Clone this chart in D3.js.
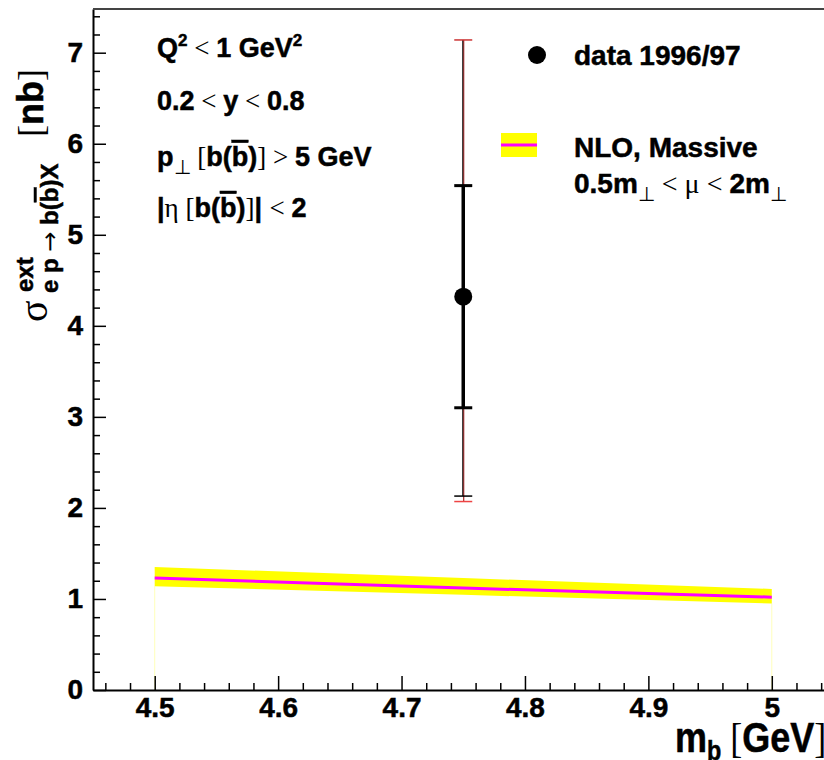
<!DOCTYPE html>
<html>
<head>
<meta charset="utf-8">
<script src="https://cdn.jsdelivr.net/npm/d3@7"></script>
<style>
  body { margin: 0; background: #fff; }
  svg { display: block; }
  text { font-family: "Liberation Sans", Arial, sans-serif; font-weight: bold; fill: #000; stroke: #000; stroke-width: 0.5px; }
  .sym { font-family: "Liberation Serif", "Times New Roman", serif; font-weight: normal; stroke: none; }
  .arrow { font-family: "DejaVu Sans", sans-serif; font-weight: normal; stroke: none; }
</style>
</head>
<body>
<svg width="824" height="760"></svg>
<script>
// measured point (1996/97 data)
var dataMb = [4.75];
var dataSigma = [4.32];
var statLow = [3.10];
var statHigh = [5.54];
var totLowBlack = [2.13];
var totLowRed = [2.07];
var totHighRed = [7.14];

// NLO massive prediction, band 0.5 mT < mu < 2 mT
var nloMb = [4.5, 4.75, 5.0];
var nloCentral = [1.23, 1.12, 1.02];
var nloUp = [1.35, 1.23, 1.11];
var nloDown = [1.14, 1.045, 0.95];

var xMajor = [4.5, 4.6, 4.7, 4.8, 4.9, 5.0];
var xLabels = ['4.5', '4.6', '4.7', '4.8', '4.9', '5'];
var yMajor = [0, 1, 2, 3, 4, 5, 6, 7];

var svg = d3.select('svg');

var x = d3.scaleLinear().domain([4.45, 5.05]).range([93, 833.5]);
var y = d3.scaleLinear().domain([0, 7.48]).range([690, 9]);

var xMinor = d3.range(223, 253).map(function(i) { return i / 50; })
  .filter(function(v) { return Math.abs(v * 10 - Math.round(v * 10)) > 1e-6; });
var yMinor = d3.range(0, 38).map(function(i) { return i / 5; })
  .filter(function(v) { return Math.abs(v - Math.round(v)) > 1e-6; });

// band
var idx = d3.range(nloMb.length);
var area = d3.area()
  .x(function(i) { return x(nloMb[i]); })
  .y0(function(i) { return y(nloDown[i]); })
  .y1(function(i) { return y(nloUp[i]); });
var line = d3.line()
  .x(function(i) { return x(nloMb[i]); })
  .y(function(i) { return y(nloCentral[i]); });

// faint edges of the band down to zero
svg.append('g').selectAll('line')
  .data([0, nloMb.length - 1])
  .enter().append('line')
  .attr('x1', function(i) { return x(nloMb[i]); })
  .attr('x2', function(i) { return x(nloMb[i]); })
  .attr('y1', function(i) { return y(nloDown[i]); })
  .attr('y2', y(0))
  .attr('stroke', '#ffff66')
  .attr('stroke-opacity', 0.45)
  .attr('stroke-width', 1);

svg.append('path').datum(idx).attr('d', area).attr('fill', '#ffff00');
svg.append('path').datum(idx).attr('d', line)
  .attr('fill', 'none').attr('stroke', '#ff00ff').attr('stroke-width', 3);

// axes
var yAxis = svg.append('g').attr('transform', 'translate(93,0)')
  .call(d3.axisLeft(y).tickValues(yMajor).tickFormat(d3.format('d'))
    .tickSize(-13).tickSizeOuter(0).tickPadding(10));
svg.append('g').attr('transform', 'translate(93,0)')
  .call(d3.axisLeft(y).tickValues(yMinor).tickFormat('').tickSize(-7).tickSizeOuter(0))
  .select('.domain').remove();

var xAxis = svg.append('g').attr('transform', 'translate(0,690)')
  .call(d3.axisBottom(x).tickValues(xMajor)
    .tickFormat(function(d, i) { return xLabels[i]; })
    .tickSize(-14).tickSizeOuter(0).tickPadding(7));
svg.append('g').attr('transform', 'translate(0,690)')
  .call(d3.axisBottom(x).tickValues(xMinor).tickFormat('').tickSize(-7).tickSizeOuter(0))
  .select('.domain').remove();

svg.selectAll('.tick line').attr('stroke', '#000').attr('stroke-width', 1.5);
svg.selectAll('.domain').attr('stroke', '#000').attr('stroke-width', 2);
yAxis.selectAll('text').attr('font-size', 28)
  .style('font-family', '"Liberation Sans", Arial, sans-serif').style('font-weight', 'bold');
xAxis.selectAll('text').attr('font-size', 28)
  .style('font-family', '"Liberation Sans", Arial, sans-serif').style('font-weight', 'bold');

// top frame
svg.append('line').attr('x1', 93).attr('x2', 824).attr('y1', 9).attr('y2', 9)
  .attr('stroke', '#444').attr('stroke-width', 2);

// data error bars
var pts = svg.append('g').selectAll('g').data(dataMb).enter().append('g');
pts.append('line')
  .attr('x1', function(d) { return x(d) + 0.5; }).attr('x2', function(d) { return x(d) + 0.5; })
  .attr('y1', function(d, i) { return y(totLowRed[i]); })
  .attr('y2', function(d, i) { return y(totHighRed[i]); })
  .attr('stroke', '#990000').attr('stroke-width', 1);
pts.append('line')
  .attr('x1', function(d) { return x(d) - 0.5; }).attr('x2', function(d) { return x(d) - 0.5; })
  .attr('y1', function(d, i) { return y(totLowBlack[i]); })
  .attr('y2', function(d, i) { return y(totHighRed[i]); })
  .attr('stroke', '#000').attr('stroke-width', 1);
function cap(vals, color, w) {
  pts.append('line')
    .attr('x1', function(d) { return x(d) - 9; }).attr('x2', function(d) { return x(d) + 9; })
    .attr('y1', function(d, i) { return y(vals[i]); })
    .attr('y2', function(d, i) { return y(vals[i]); })
    .attr('stroke', color).attr('stroke-width', w);
}
cap(totLowRed, '#ee4444', 1.5);
cap(totHighRed, '#cc3333', 1.5);
cap(totLowBlack, '#000', 1.5);
pts.append('line')
  .attr('x1', function(d) { return x(d); }).attr('x2', function(d) { return x(d); })
  .attr('y1', function(d, i) { return y(statLow[i]); })
  .attr('y2', function(d, i) { return y(statHigh[i]); })
  .attr('stroke', '#000').attr('stroke-width', 3.5);
cap(statLow, '#000', 3);
cap(statHigh, '#000', 3);
pts.append('circle')
  .attr('cx', function(d) { return x(d); })
  .attr('cy', function(d, i) { return y(dataSigma[i]); })
  .attr('r', 9).attr('fill', '#000');

// text helper: parts = [[string, cls, dy, size]]
function rich(g, px, py, size, parts) {
  var t = g.append('text').attr('x', px).attr('y', py).attr('font-size', size);
  parts.forEach(function(p) {
    var s = t.append('tspan').text(p[0]);
    if (p[1] === 'sym' || p[1] === 'arrow') s.attr('class', p[1]);
    if (p[1] === 'bar') s.style('text-decoration', 'overline');
    if (p[2]) s.attr('dy', p[2]);
    if (p[3]) s.attr('font-size', p[3]);
  });
  return t;
}

// cut labels
rich(svg, 157, 57, 27, [['Q'], ['2', null, -11, 17], [' < ', 'sym', 11, 27], ['1 GeV'], ['2', null, -11, 17]]);
rich(svg, 157, 110, 27, [['0.2'], [' < ', 'sym'], ['y'], [' < ', 'sym'], ['0.8']]);
rich(svg, 157, 166, 27, [['p'], ['\u22a5', 'sym', 8, 20], [' [', 'sym', -8, 27], ['b('], ['b', 'bar'], [')'], [']  ', 'sym'], ['> ', 'sym'], ['5 GeV']]);
rich(svg, 157, 217, 27, [['|'], ['\u03b7 [', 'sym'], ['b('], ['b', 'bar'], [')'], [']', 'sym'], ['| '], ['< ', 'sym'], ['2']]);

// legend
var lg = svg.append('g');
lg.append('circle').attr('cx', 537).attr('cy', 55).attr('r', 9).attr('fill', '#000');
rich(lg, 574, 65, 28, [['data 1996/97']]);
lg.append('rect').attr('x', 501).attr('y', 133).attr('width', 36).attr('height', 24).attr('fill', '#ffff00');
lg.append('line').attr('x1', 501).attr('x2', 537).attr('y1', 145).attr('y2', 145)
  .attr('stroke', '#ff00ff').attr('stroke-width', 3);
rich(lg, 574, 157, 28, [['NLO, Massive']]);
rich(lg, 574, 193, 28, [['0.5m'], ['\u22a5', 'sym', 8, 20], [' < \u03bc < ', 'sym', -8, 28], ['2m'], ['\u22a5', 'sym', 8, 20]]);

// x title
rich(svg, 0, 0, 40, [['m'], ['b', null, 8, 26], [' [', 'sym', -8, 40], ['GeV'], [']', 'sym']])
  .attr('transform', 'translate(675,752) scale(0.9,1.05)');

// y title (rotated)
var yt = svg.append('g').attr('transform', 'rotate(-90)');
rich(yt, -322, 47, 40, [['\u03c3', 'sym']]);
rich(yt, -292, 33, 24, [['ext']]);
rich(yt, -293, 58, 24, [['e p '], ['\u2192', 'arrow'], [' b('], ['b', 'bar'], [')X']]);
rich(yt, -137, 43, 36, [['[', 'sym'], ['nb'], [']', 'sym']]);
</script>
</body>
</html>
